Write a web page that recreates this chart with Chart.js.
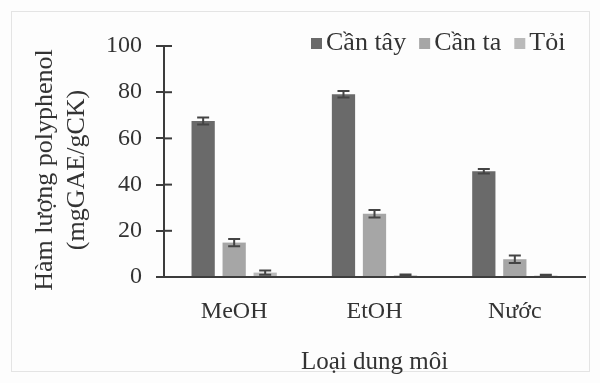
<!DOCTYPE html>
<html>
<head>
<meta charset="utf-8">
<script src="https://cdn.jsdelivr.net/npm/chart.js@4.4.1/dist/chart.umd.min.js"></script>
<style>
  html, body { margin: 0; padding: 0; background: #ffffff; }
  #wrap { width: 600px; height: 383px; position: relative; }
</style>
</head>
<body>
<div id="wrap"><canvas id="c" width="600" height="383"></canvas></div>
<script>
// Solvents on the x axis
const solvents = ['MeOH', 'EtOH', 'Nước'];
// Plant samples (one bar series each)
const seriesNames = ['Cần tây', 'Cần ta', 'Tỏi'];
// Polyphenol content, mgGAE/gCK
const canTay = [67.5, 79.1, 45.8];
const canTa  = [14.9, 27.4, 7.7];
const toi    = [1.9, 0.7, 0.6];
// Standard deviations
const canTayErr = [1.5, 1.4, 1.0];
const canTaErr  = [1.6, 1.6, 1.6];
const toiErr    = [0.9, 0.4, 0.4];
// Y axis ticks and title
const yTicks = [0, 20, 40, 60, 80, 100];
const yTitleLines = ['Hàm lượng polyphenol', '(mgGAE/gCK)'];
const xTitle = 'Loại dung môi';

const seriesColors = ['#6a6a6a', '#a6a6a6', '#bababa'];
const inkColor = '#333333';
const axisColor = '#3c3c3c';
const serif = "'Liberation Serif', 'Times New Roman', serif";

// light frame behind the chart
const framePlugin = {
  id: 'frame',
  beforeDraw(chart) {
    const ctx = chart.ctx;
    ctx.save();
    ctx.fillStyle = '#fdfdfd';
    ctx.fillRect(0, 0, chart.width, chart.height);
    ctx.strokeStyle = '#e4e4e4';
    ctx.lineWidth = 1;
    ctx.strokeRect(11.5, 11.5, 578, 360);
    ctx.restore();
  }
};

// ± standard deviation whiskers on each bar
const errorBarPlugin = {
  id: 'errorBars',
  afterDatasetsDraw(chart) {
    const ctx = chart.ctx;
    const y = chart.scales.y;
    ctx.save();
    ctx.strokeStyle = '#444444';
    ctx.lineWidth = 2;
    chart.data.datasets.forEach((ds, i) => {
      const meta = chart.getDatasetMeta(i);
      meta.data.forEach((bar, j) => {
        const v = ds.data[j], e = ds.errors[j];
        const top = y.getPixelForValue(v + e);
        const bot = y.getPixelForValue(Math.max(0, v - e));
        const half = 6;
        ctx.beginPath();
        ctx.moveTo(bar.x, top); ctx.lineTo(bar.x, bot);
        ctx.moveTo(bar.x - half, top); ctx.lineTo(bar.x + half, top);
        ctx.moveTo(bar.x - half, bot); ctx.lineTo(bar.x + half, bot);
        ctx.stroke();
      });
    });
    ctx.restore();
  }
};

// y tick marks crossing the axis (inner half)
const innerTicksPlugin = {
  id: 'innerTicks',
  afterDraw(chart) {
    const ctx = chart.ctx;
    const y = chart.scales.y;
    const x0 = chart.chartArea.left;
    ctx.save();
    ctx.strokeStyle = axisColor;
    ctx.lineWidth = 2;
    y.ticks.forEach(t => {
      const py = y.getPixelForValue(t.value);
      ctx.beginPath();
      ctx.moveTo(x0, py); ctx.lineTo(x0 + 8, py);
      ctx.stroke();
    });
    ctx.restore();
  }
};

// two-line rotated y axis title
const yTitlePlugin = {
  id: 'yTitle',
  afterDraw(chart) {
    const ctx = chart.ctx;
    ctx.save();
    ctx.font = '26px ' + serif;
    ctx.fillStyle = inkColor;
    ctx.textAlign = 'center';
    ctx.textBaseline = 'middle';
    ctx.translate(0, 170);
    ctx.rotate(-Math.PI / 2);
    yTitleLines.forEach((line, i) => {
      ctx.fillText(line, 0, 45 + i * 32);
    });
    ctx.restore();
  }
};

// legend row in the top-right corner
const legendPlugin = {
  id: 'topLegend',
  afterDraw(chart) {
    const ctx = chart.ctx;
    ctx.save();
    ctx.font = '26px ' + serif;
    ctx.textBaseline = 'middle';
    let x = 311;
    const cy = 43;
    chart.data.datasets.forEach((ds, i) => {
      ctx.fillStyle = ds.backgroundColor;
      ctx.fillRect(x, cy - 5, 11, 11);
      x += 15;
      ctx.fillStyle = inkColor;
      ctx.fillText(ds.label, x, cy);
      x += ctx.measureText(ds.label).width + 13;
    });
    ctx.restore();
  }
};

const allValues = [canTay, canTa, toi];
const allErrors = [canTayErr, canTaErr, toiErr];

new Chart(document.getElementById('c'), {
  type: 'bar',
  data: {
    labels: solvents,
    datasets: seriesNames.map((name, i) => ({
      label: name,
      data: allValues[i],
      errors: allErrors[i],
      backgroundColor: seriesColors[i],
      borderWidth: 0
    }))
  },
  options: {
    responsive: false,
    animation: false,
    events: [],
    categoryPercentage: 0.663,
    barPercentage: 0.75,
    layout: { padding: { top: 46, right: 15, bottom: 6, left: 0 } },
    plugins: {
      legend: { display: false },
      tooltip: { enabled: false }
    },
    scales: {
      x: {
        grid: { display: false },
        border: { display: true, color: axisColor, width: 2 },
        ticks: { color: inkColor, font: { family: serif, size: 24 }, padding: 12, maxRotation: 0 },
        title: { display: true, text: xTitle, color: inkColor,
                 font: { family: serif, size: 25 }, padding: { top: 7, bottom: 0 } },
        afterFit(s) { s.height = 100; }
      },
      y: {
        min: 0, max: 100,
        afterBuildTicks(s) { s.ticks = yTicks.map(v => ({ value: v })); },
        grid: { display: true, drawOnChartArea: false, drawTicks: true, tickLength: 8,
                color: axisColor, lineWidth: 2 },
        border: { display: true, color: axisColor, width: 2 },
        ticks: { color: inkColor, font: { family: serif, size: 24 }, padding: 14 },
        title: { display: false },
        afterFit(s) { s.width = 164; }
      }
    }
  },
  plugins: [framePlugin, errorBarPlugin, innerTicksPlugin, yTitlePlugin, legendPlugin]
});
</script>
</body>
</html>
